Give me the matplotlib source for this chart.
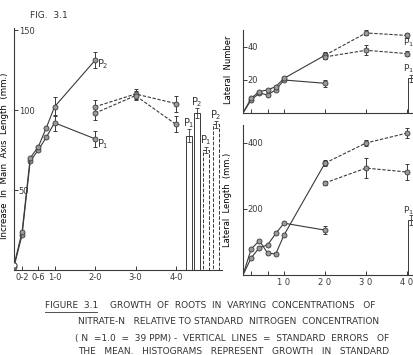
import matplotlib.pyplot as plt
from matplotlib.lines import Line2D

# concentrations (relative to standard N)
conc_low = [0, 0.2, 0.4, 0.6, 0.8, 1.0, 2.0]
conc_high = [2.0, 3.0, 4.0]

# increase in main axis length (mm.)
main_p1 = [2, 22, 68, 75, 83, 92, 82]
main_p1_err = [0, 0, 0, 0, 0, 5, 5]
main_p2 = [3, 24, 70, 77, 89, 102, 131]
main_p2_err = [0, 0, 0, 0, 0, 6, 5]
main_hi_a = [102, 110, 104]
main_hi_a_err = [4, 3, 5]
main_hi_b = [98, 109, 91]
main_hi_b_err = [4, 3, 5]

# histograms (standard growth)
main_bar_x = [4.32, 4.52, 4.73, 4.99]
main_bar_h = [84, 98, 75, 91]
main_bar_err = [4, 3, 2, 2]
main_bar_lab = ['P$_1$', 'P$_2$', 'P$_1$', 'P$_2$']
main_bar_dashed = [False, False, True, True]

# lateral number
num_p1 = [0, 8, 12, 11, 14, 20, 18]
num_p1_err = [0, 0, 0, 0, 0, 0, 2]
num_p2 = [0, 9, 13, 14, 16, 21, 35]
num_hi_a = [35, 48.5, 47]
num_hi_a_err = [2, 1.5, 1.5]
num_hi_b = [34, 38, 36]
num_hi_b_err = [1, 3, 1.5]
num_bar = 21
num_bar_err = 2

# lateral length (mm.)
len_p1 = [0, 52, 83, 91, 126, 157, 136]
len_p1_err = [0, 0, 0, 0, 0, 0, 12]
len_p2 = [0, 79, 104, 66, 64, 121, 339]
len_hi_a = [339, 400, 430]
len_hi_a_err = [8, 10, 15]
len_hi_b = [279, 324, 312]
len_hi_b_err = [5, 30, 25]
len_bar = 167
len_bar_err = 15

right_bar_x = 4.09

left_xticks = [0.2, 0.6, 1.0, 2.0, 3.0, 4.0]
left_xlabels = ['0-2', '0-6', '1-0', '2-0', '3-0', '4-0']
right_xlabels = ['', '', '1 0', '2 0', '3 0', '4 0']

INK = '#3a3a3a'
MFC = '#9a9a9a'
plt.rcParams['font.family'] = 'DejaVu Sans'
plt.rcParams['axes.edgecolor'] = INK
plt.rcParams['xtick.color'] = INK
plt.rcParams['ytick.color'] = INK
plt.rcParams['text.color'] = '#333333'

W, H = 414, 355
fig = plt.figure(figsize=(W / 100, H / 100), dpi=100)


def px_axes(x0, y_top, x1, y_bot):
    return fig.add_axes([x0 / W, 1 - y_bot / H, (x1 - x0) / W, (y_bot - y_top) / H])


def style(ax, yticks, xlabels):
    for s in ('top', 'right'):
        ax.spines[s].set_visible(False)
    for s in ('left', 'bottom'):
        ax.spines[s].set_linewidth(0.8)
    ax.set_yticks(yticks, [str(v) for v in yticks], ha='left')
    ax.tick_params(axis='y', direction='in', length=3, pad=-3.5, labelsize=6, width=0.7)
    ax.set_xticks(left_xticks, xlabels)
    ax.tick_params(axis='x', direction='in', length=3, pad=2, labelsize=6, width=0.7)


def series(ax, x, y, err=None, ls='-', first_marker=True):
    mk = slice(0, None) if first_marker else slice(1, None)
    ax.plot(x, y, ls=ls, color=INK, lw=0.8, marker='o', ms=3.6, mfc=MFC,
            mec=INK, mew=0.6, markevery=mk, dashes=(3, 1.5) if ls == '--' else (None, None),
            zorder=3)
    if err is not None:
        ax.errorbar(x, y, yerr=err, fmt='none', ecolor=INK, elinewidth=0.7,
                    capsize=1.6, capthick=0.7, zorder=2)


# ---- left panel: main axis length
axL = px_axes(14, 28, 222, 270)
axL.set_xlim(0, 208 / 40.5)
axL.set_ylim(0, 242 / 1.6)
style(axL, [50, 100, 150], left_xlabels)
series(axL, conc_low, main_p1, main_p1_err)
series(axL, conc_low, main_p2, main_p2_err)
series(axL, conc_high, main_hi_a, main_hi_a_err, ls='--')
series(axL, conc_high, main_hi_b, main_hi_b_err, ls='--')
axL.plot([0], [3], 'o', ms=3.6, mfc='white', mec=INK, mew=0.6, zorder=4)
axL.text(2.05, main_p2[-1] - 2, 'P$_2$', fontsize=7, va='center')
axL.text(2.05, main_p1[-1] - 3, 'P$_1$', fontsize=7, va='center')

for x, h, e, lab, dsh in zip(main_bar_x, main_bar_h, main_bar_err, main_bar_lab, main_bar_dashed):
    axL.bar(x, h, width=0.15, facecolor='white', edgecolor=INK, lw=0.7,
            ls='--' if dsh else '-', zorder=2)
    axL.errorbar(x, h, yerr=e, fmt='none', ecolor=INK, elinewidth=0.6,
                 capsize=1.5, capthick=0.6, zorder=3)
    axL.text(x, h + e + 4, lab, fontsize=7, ha='center', va='center')

axL.set_ylabel('Increase  In  Main  Axis  Length  (mm.)', fontsize=6.2)
axL.yaxis.set_label_coords(-0.026, 0.47)

# ---- right top: lateral number
axT = px_axes(243, 30, 414, 113)
axT.set_xlim(0, 171 / 41)
axT.set_ylim(0, 83 * 0.606)
style(axT, [20, 40], ['' for _ in left_xticks])
series(axT, conc_low, num_p1, num_p1_err, first_marker=False)
series(axT, conc_low, num_p2, first_marker=False)
series(axT, conc_high, num_hi_a, num_hi_a_err, ls='--')
series(axT, conc_high, num_hi_b, num_hi_b_err, ls='--')
axT.bar(right_bar_x, num_bar, width=0.12, facecolor='white', edgecolor=INK, lw=0.7, zorder=2)
axT.errorbar(right_bar_x, num_bar, yerr=num_bar_err, fmt='none', ecolor=INK,
             elinewidth=0.6, capsize=1.5, capthick=0.6)
axT.text(4.165, num_bar + num_bar_err + 4, 'P$_1$', fontsize=6.5, ha='right', va='center')
axT.text(4.165, num_hi_b[-1] + 2.5, 'P$_1$', fontsize=6.5, ha='right', va='bottom')
axT.set_ylabel('Lateral  Number', fontsize=6)
axT.yaxis.set_label_coords(-0.06, 0.52)

# ---- right bottom: lateral length
axB = px_axes(243, 125, 414, 275)
axB.set_xlim(0, 171 / 41)
axB.set_ylim(0, 150 / 0.33)
style(axB, [200, 400], right_xlabels)
series(axB, conc_low, len_p1, len_p1_err, first_marker=False)
series(axB, conc_low, len_p2, first_marker=False)
series(axB, conc_high, len_hi_a, len_hi_a_err, ls='--')
series(axB, conc_high, len_hi_b, len_hi_b_err, ls='--')
axB.bar(right_bar_x, len_bar, width=0.12, facecolor='white', edgecolor=INK, lw=0.7, zorder=2)
axB.errorbar(right_bar_x, len_bar, yerr=len_bar_err, fmt='none', ecolor=INK,
             elinewidth=0.6, capsize=1.5, capthick=0.6)
axB.text(4.165, len_bar + len_bar_err + 12, 'P$_1$', fontsize=6.5, ha='right', va='center')
axB.set_ylabel('Lateral  Length  (mm.)', fontsize=6)
axB.yaxis.set_label_coords(-0.064, 0.5)

# ---- headings and caption
fig.text(30 / W, 1 - 15 / H, 'FIG.  3.1', fontsize=6.5, va='center')
cap = dict(fontsize=6.5, va='center')
fig.text(45 / W, 1 - 305 / H, 'FIGURE  3.1', **cap)
fig.add_artist(Line2D([45 / W, 97 / W], [1 - 312 / H] * 2, color='#333333', lw=0.6))
fig.text(110 / W, 1 - 305 / H, 'GROWTH  OF  ROOTS  IN  VARYING  CONCENTRATIONS   OF', **cap)
fig.text(78 / W, 1 - 322 / H, 'NITRATE-N   RELATIVE TO STANDARD  NITROGEN  CONCENTRATION', **cap)
fig.text(75 / W, 1 - 339 / H, '( N  =1.0  =  39 PPM) -  VERTICAL  LINES  =  STANDARD  ERRORS   OF', **cap)
fig.text(78 / W, 1 - 352 / H, 'THE   MEAN.   HISTOGRAMS   REPRESENT   GROWTH   IN   STANDARD', **cap)

fig.savefig('out.png', dpi=100)
